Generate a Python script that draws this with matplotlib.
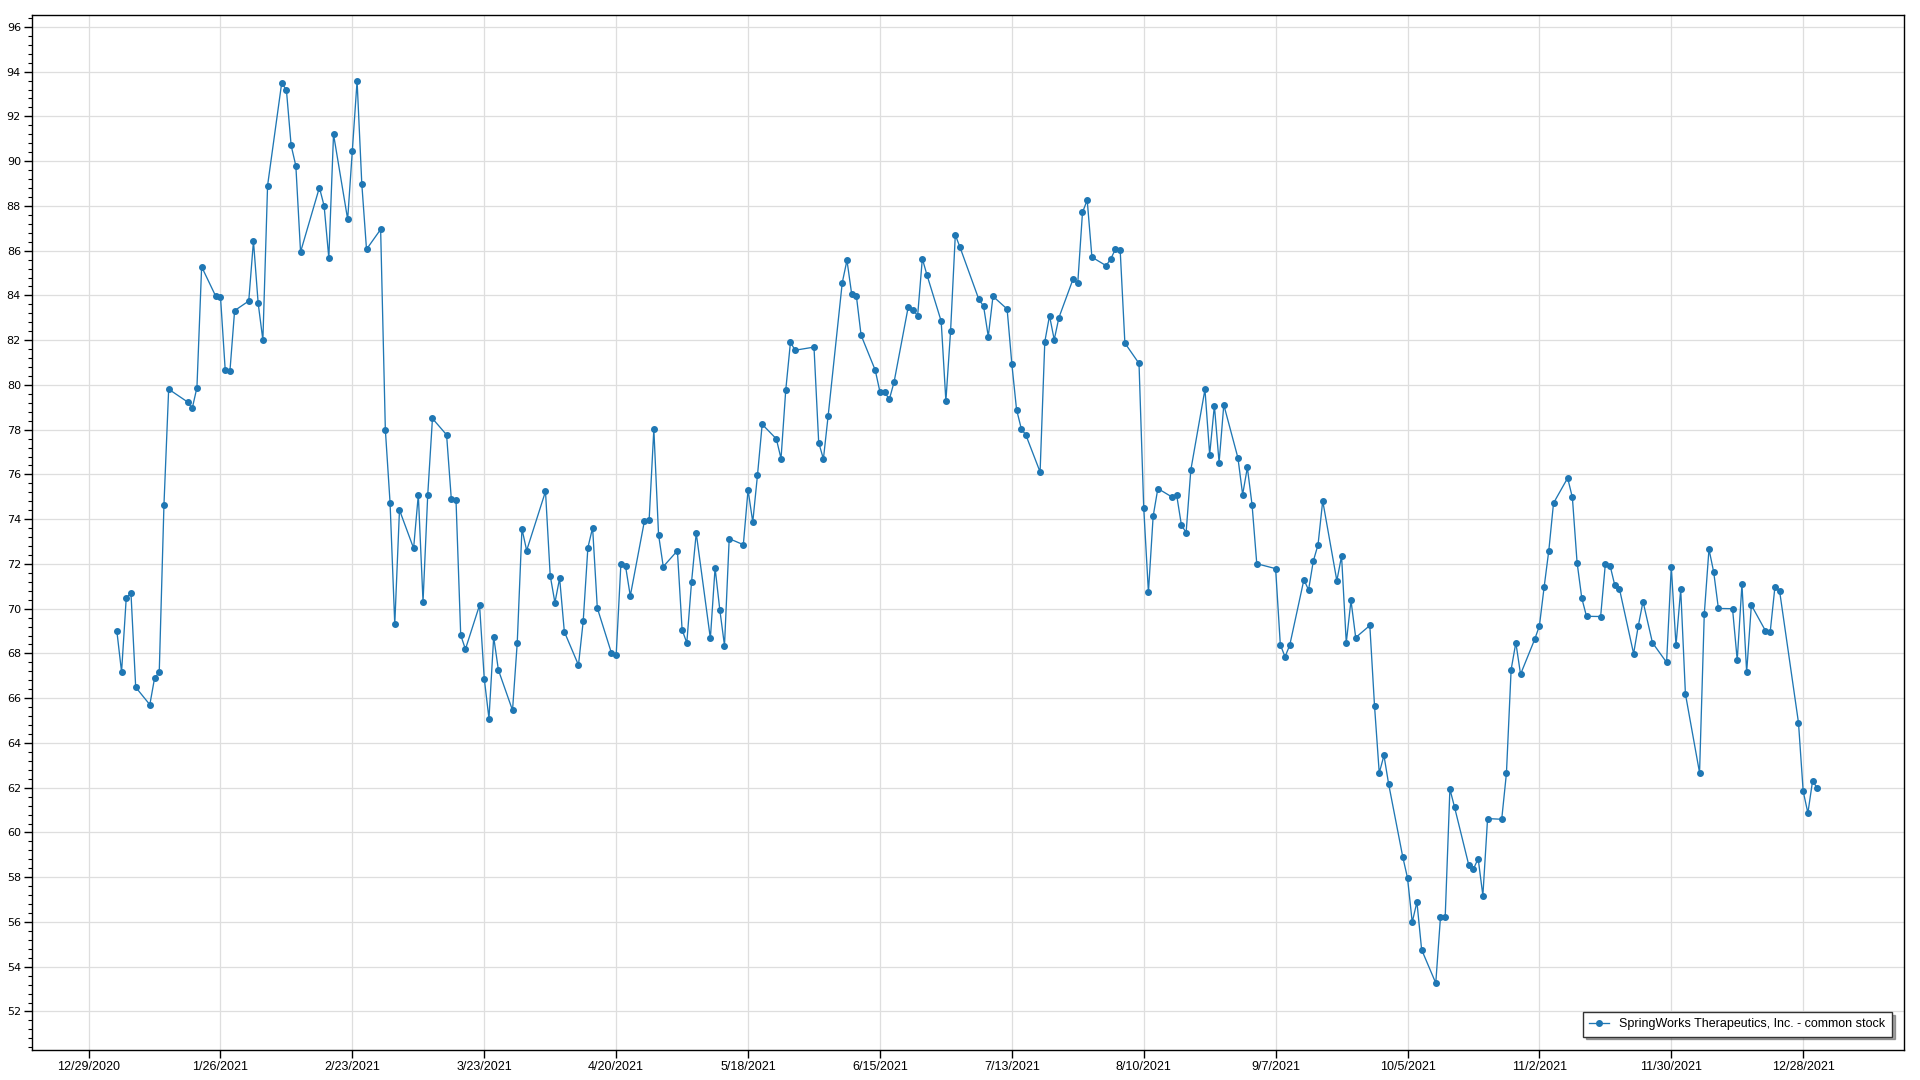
import matplotlib.pyplot as plt
from matplotlib.ticker import MultipleLocator
import numpy as np
import pandas as pd

# NYSE holidays 2021 (weekdays with no trading)
holidays = ["2021-01-18", "2021-02-15", "2021-04-02", "2021-05-31",
            "2021-07-05", "2021-09-06", "2021-11-25", "2021-12-24"]

# closing prices, one list per month
jan = [69.0, 67.17, 70.5, 70.68, 66.49, 65.71, 66.89, 67.17, 74.64, 79.81,
       79.24, 78.95, 79.88, 85.28, 83.96, 83.94, 80.68, 80.6, 83.32]
feb = [83.75, 86.43, 83.65, 82.0, 88.91, 93.5, 93.17, 90.7, 89.79, 85.94,
       88.82, 88.0, 85.67, 91.2, 87.4, 90.47, 93.59, 88.99, 86.06]
mar = [86.95, 78.0, 74.74, 69.3, 74.41, 72.7, 75.09, 70.31, 75.09, 78.5,
       77.77, 74.91, 74.86, 68.82, 68.19, 70.16, 66.87, 65.09, 68.74, 67.26,
       65.46, 68.47, 73.57]
apr = [72.6, 75.24, 71.48, 70.27, 71.36, 68.97, 67.48, 69.43, 72.73, 73.62,
       70.03, 68.02, 67.91, 71.98, 71.89, 70.57, 73.92, 73.96, 78.02, 73.31,
       71.88]
may = [72.59, 69.06, 68.47, 71.18, 73.38, 68.67, 71.82, 69.96, 68.35, 73.13,
       72.86, 75.31, 73.87, 75.96, 78.24, 77.59, 76.71, 79.76, 81.9, 81.55]
jun = [81.69, 77.42, 76.69, 78.61, 84.57, 85.57, 84.06, 83.97, 82.22, 80.66,
       79.69, 79.67, 79.36, 80.13, 83.48, 83.37, 83.09, 85.64, 84.9, 82.85,
       79.28, 82.42]
jul = [86.7, 86.15, 83.82, 83.52, 82.16, 83.96, 83.39, 80.94, 78.9, 78.05,
       77.75, 76.11, 81.93, 83.09, 82.02, 83.01, 84.73, 84.56, 87.71, 88.26,
       85.71]
aug = [85.33, 85.63, 86.07, 86.03, 81.87, 80.96, 74.5, 70.73, 74.13, 75.37,
       74.99, 75.07, 73.74, 73.4, 76.2, 79.8, 76.88, 79.08, 76.53, 79.11,
       76.74, 75.1]
sep = [76.31, 74.64, 72.01, 71.79, 68.39, 67.85, 68.37, 71.29, 70.84, 72.13,
       72.85, 74.82, 71.25, 72.35, 68.48, 70.37, 68.71, 69.25, 65.65, 62.66,
       63.44]
oct_ = [62.16, 58.9, 57.97, 55.99, 56.89, 54.76, 53.27, 56.22, 56.22, 61.94,
        61.12, 58.55, 58.37, 58.83, 57.18, 60.62, 60.59, 62.64, 67.28, 68.48,
        67.07]
nov = [68.63, 69.23, 70.96, 72.6, 74.72, 75.84, 74.97, 72.06, 70.47, 69.66,
       69.65, 72.0, 71.93, 71.05, 70.88, 67.99, 69.24, 70.32, 68.48, 67.6,
       71.87]
dec = [68.36, 70.87, 66.19, 62.67, 69.75, 72.66, 71.64, 70.01, 70.0, 67.7,
       71.09, 67.16, 70.16, 69.01, 68.97, 70.97, 70.78, 64.91, 61.84, 60.87,
       62.31, 61.97]

series_name = "SpringWorks Therapeutics, Inc. - common stock"

prices = jan + feb + mar + apr + may + jun + jul + aug + sep + oct_ + nov + dec
dates = pd.bdate_range("2021-01-04", "2021-12-31", freq="C", holidays=holidays)
assert len(dates) == len(prices)

xticks = pd.date_range("2020-12-29", periods=14, freq="28D")
xlabels = [f"{d.month}/{d.day}/{d.year}" for d in xticks]

narrow = ["Liberation Sans Narrow", "Liberation Sans", "DejaVu Sans"]

fig = plt.figure(figsize=(19.2, 10.8), dpi=100)
ax = fig.add_axes([0.0167, 0.0278, 0.9750, 0.9583])

ax.plot(dates, prices, color="#1f77b4", lw=0.95, marker="o", ms=4.0,
        label=series_name, zorder=3)

ax.set_xlim(pd.Timestamp("2020-12-17 00:00"), pd.Timestamp("2022-01-18 10:00"))
ax.set_ylim(50.28, 96.53)

ax.set_xticks(xticks)
ax.set_xticklabels(xlabels, fontsize=9, family=narrow)
ax.set_yticks(np.arange(52, 97, 2))
ax.yaxis.set_minor_locator(MultipleLocator(0.4))
for t in ax.get_yticklabels():
    t.set_fontsize(8)

ax.grid(True, which="major", color="#dedede", lw=0.9, zorder=0)
ax.tick_params(axis="y", which="major", length=6, width=1, pad=2)
ax.tick_params(axis="y", which="minor", length=3, width=0.8)
ax.tick_params(axis="x", which="major", length=6, width=1, pad=2)

for s in ax.spines.values():
    s.set_color("black")
    s.set_linewidth(1)

leg = ax.legend(loc="lower right", bbox_to_anchor=(0.9968, 0.0068),
                prop={"family": narrow, "size": 9}, fancybox=False,
                shadow=True, framealpha=1, edgecolor="#333333",
                handlelength=1.6, borderpad=0.5)
leg.get_frame().set_linewidth(1)

fig.savefig("out.png", dpi=100)
